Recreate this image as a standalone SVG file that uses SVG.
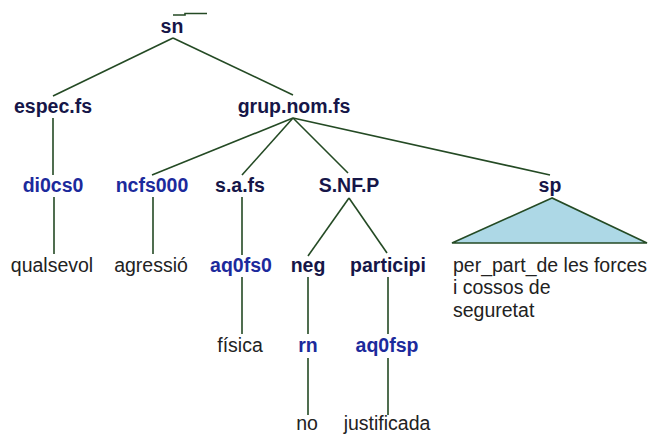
<svg xmlns="http://www.w3.org/2000/svg" width="648" height="438" viewBox="0 0 648 438">
<style>
.lbl{font-family:"Liberation Sans",Arial,sans-serif;font-size:19.5px;font-weight:bold;fill:#161648;text-anchor:middle}
.tag{font-family:"Liberation Sans",Arial,sans-serif;font-size:19.5px;font-weight:bold;fill:#1c2a9c;text-anchor:middle}
.wd{font-family:"Liberation Sans",Arial,sans-serif;font-size:19.5px;fill:#222;text-anchor:middle}
.wl{font-family:"Liberation Sans",Arial,sans-serif;font-size:19.5px;fill:#222}
.e{stroke:#244a24;stroke-width:1.6;fill:none}
</style>
<rect width="648" height="438" fill="#fff"/>
<g id="connectors">
<polyline class="e" points="173,15 185,15 185,13.5 207,13.5"/>
<line class="e" x1="173" y1="38" x2="53" y2="96"/>
<line class="e" x1="173" y1="38" x2="293" y2="95"/>
<line class="e" x1="53" y1="118" x2="53" y2="175"/>
<line class="e" x1="293" y1="118" x2="152" y2="175"/>
<line class="e" x1="293" y1="118" x2="242" y2="175"/>
<line class="e" x1="293" y1="118" x2="348" y2="173"/>
<line class="e" x1="293" y1="118" x2="550" y2="175"/>
<line class="e" x1="54" y1="197" x2="54" y2="254"/>
<line class="e" x1="153" y1="197" x2="153" y2="254"/>
<line class="e" x1="242" y1="197" x2="242" y2="255"/>
<line class="e" x1="349" y1="198" x2="308" y2="256"/>
<line class="e" x1="349" y1="198" x2="387" y2="253"/>
<line class="e" x1="242" y1="277" x2="242" y2="334"/>
<line class="e" x1="308" y1="277" x2="308" y2="334"/>
<line class="e" x1="388" y1="277" x2="388" y2="334"/>
<line class="e" x1="308" y1="358" x2="308" y2="415"/>
<line class="e" x1="388" y1="358" x2="388" y2="415"/>
</g>
<g id="n-sn"><text class="lbl" x="172" y="33">sn</text></g>
<g id="n-espec"><text class="lbl" x="53" y="113">espec.fs</text></g>
<g id="n-grup"><text class="lbl" x="294" y="113">grup.nom.fs</text></g>
<g id="n-di0cs0"><text class="tag" x="53" y="192">di0cs0</text></g>
<g id="n-ncfs000"><text class="tag" x="152" y="192">ncfs000</text></g>
<g id="n-safs"><text class="lbl" x="240" y="192">s.a.fs</text></g>
<g id="n-snfp"><text class="lbl" x="349" y="192">S.NF.P</text></g>
<g id="n-sp">
<polygon points="552,198 452,243 647,243" fill="#add8e6" stroke="#244a24" stroke-width="1.6"/>
<text class="lbl" x="550" y="192">sp</text>
<text class="wl" x="453" y="272">per_part_de les forces</text>
<text class="wl" x="453" y="294">i cossos de</text>
<text class="wl" x="453" y="317">seguretat</text>
</g>
<g id="n-qualsevol"><text class="wd" x="52" y="272">qualsevol</text></g>
<g id="n-agressio"><text class="wd" x="151" y="272">agressió</text></g>
<g id="n-aq0fs0"><text class="tag" x="241" y="272">aq0fs0</text></g>
<g id="n-neg"><text class="lbl" x="308" y="272">neg</text></g>
<g id="n-participi"><text class="lbl" x="388" y="272">participi</text></g>
<g id="n-fisica"><text class="wd" x="240" y="352">física</text></g>
<g id="n-rn"><text class="tag" x="308" y="352">rn</text></g>
<g id="n-aq0fsp"><text class="tag" x="387" y="352">aq0fsp</text></g>
<g id="n-no"><text class="wd" x="307" y="430">no</text></g>
<g id="n-justificada"><text class="wd" x="387" y="430">justificada</text></g>
</svg>
